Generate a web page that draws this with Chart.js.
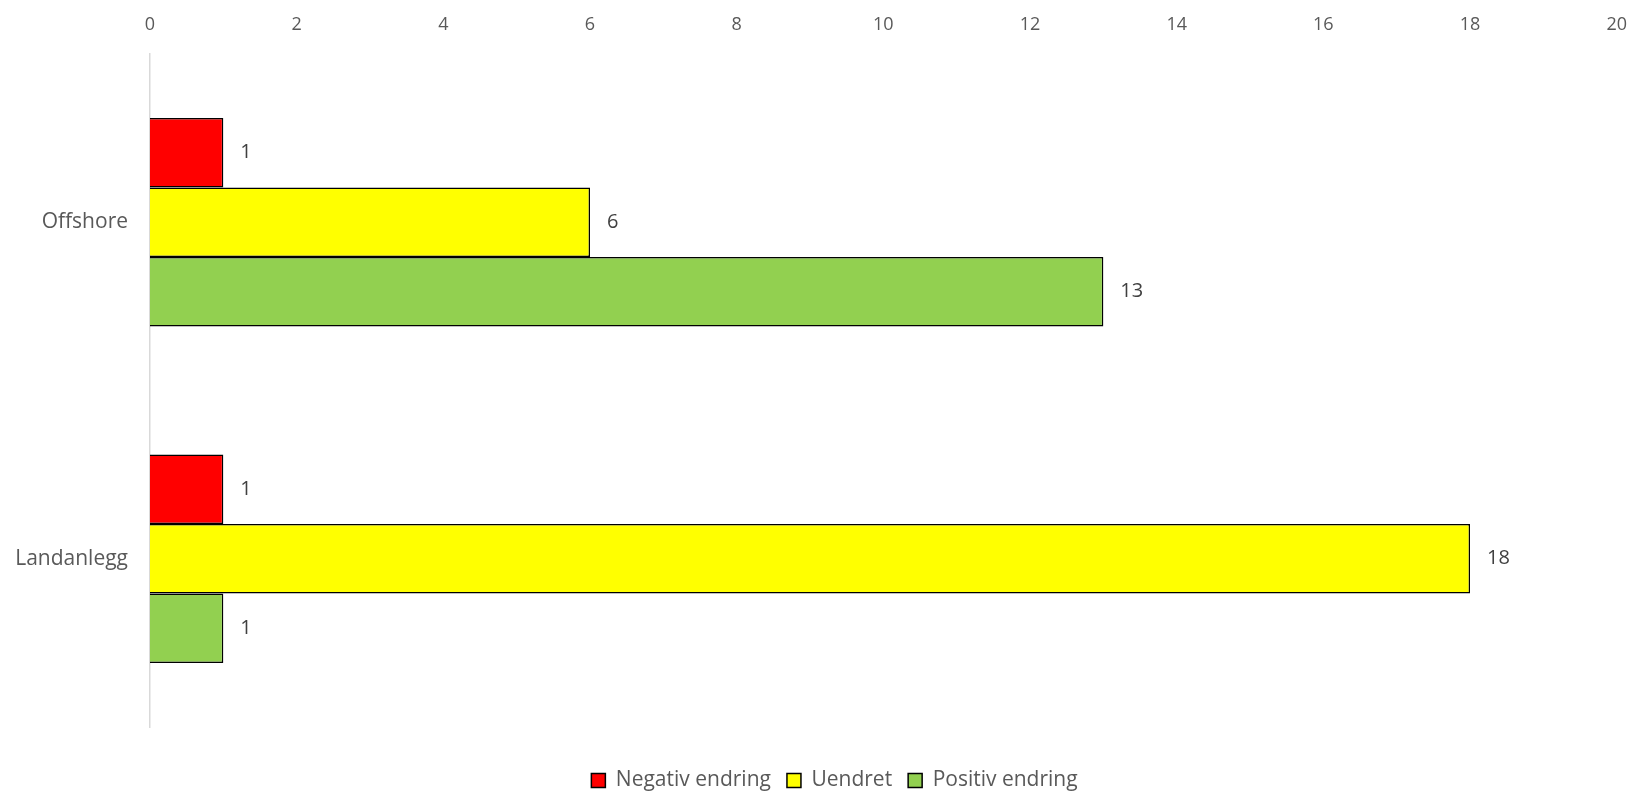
<!DOCTYPE html>
<html lang="nb">
<head>
    <meta charset="UTF-8">
    <title>Endring</title>
    <script src="https://cdn.jsdelivr.net/npm/chart.js"></script>
    <style>
        html, body { margin: 0; padding: 0; background: #fff; }
        .chart-container { width: 1637px; height: 792px; }
    </style>
</head>
<body>
    <div class="chart-container">
        <canvas id="barChart"></canvas>
    </div>
    <script>
        const categories = ['Offshore', 'Landanlegg'];
        const negativ = [1, 1];
        const uendret = [6, 18];
        const positiv = [13, 1];
        const xTicks = [0, 2, 4, 6, 8, 10, 12, 14, 16, 18, 20];

        const fontFamily = "'Open Sans', 'Liberation Sans', sans-serif";

        // verdier ved enden av hver stolpe
        const valueLabels = {
            id: 'valueLabels',
            afterDatasetsDraw(chart) {
                const c = chart.ctx;
                c.save();
                c.font = '20px ' + fontFamily;
                c.fillStyle = '#404040';
                c.textAlign = 'left';
                c.textBaseline = 'middle';
                chart.data.datasets.forEach((ds, i) => {
                    chart.getDatasetMeta(i).data.forEach((bar, j) => {
                        c.fillText(ds.data[j], bar.x + 17, bar.y);
                    });
                });
                c.restore();
            }
        };

        // flytt forklaringen litt mot høyre, som i originalen
        const legendShift = {
            id: 'legendShift',
            afterLayout(chart) {
                const lg = chart.legend;
                if (!lg) return;
                lg.left += 20;
                lg.right += 20;
                if (lg.legendHitBoxes) lg.legendHitBoxes.forEach(b => { b.left += 20; });
            }
        };

        const ctx = document.getElementById('barChart').getContext('2d');
        new Chart(ctx, {
            type: 'bar',
            data: {
                labels: categories,
                datasets: [
                    {
                        label: 'Negativ endring',
                        data: negativ,
                        backgroundColor: '#ff0000',
                        borderColor: '#000000',
                        borderWidth: 1.5
                    },
                    {
                        label: 'Uendret',
                        data: uendret,
                        backgroundColor: '#ffff00',
                        borderColor: '#000000',
                        borderWidth: 1.5
                    },
                    {
                        label: 'Positiv endring',
                        data: positiv,
                        backgroundColor: '#92d050',
                        borderColor: '#000000',
                        borderWidth: 1.5
                    }
                ]
            },
            options: {
                indexAxis: 'y',
                responsive: true,
                maintainAspectRatio: false,
                animation: false,
                layout: {
                    padding: { left: 0, right: 8, top: 8, bottom: -9 }
                },
                datasets: {
                    bar: {
                        barPercentage: 1,
                        categoryPercentage: 0.62
                    }
                },
                scales: {
                    x: {
                        position: 'top',
                        min: 0,
                        max: 20,
                        afterBuildTicks(scale) {
                            scale.ticks = xTicks.map(v => ({ value: v }));
                        },
                        afterFit(scale) { scale.height = 46; },
                        grid: { display: false },
                        border: { display: false },
                        ticks: {
                            color: '#595959',
                            font: { family: fontFamily, size: 18 },
                            padding: 10
                        }
                    },
                    y: {
                        afterFit(scale) { scale.width = 150; },
                        grid: { display: false },
                        border: { display: true, color: '#d9d9d9', width: 1.5 },
                        ticks: {
                            color: '#595959',
                            font: { family: fontFamily, size: 21 },
                            padding: 14
                        }
                    }
                },
                plugins: {
                    legend: {
                        position: 'bottom',
                        title: {
                            display: true,
                            text: ' ',
                            font: { size: 10 },
                            padding: { top: 6, bottom: 9 }
                        },
                        labels: {
                            color: '#595959',
                            font: { family: fontFamily, size: 21 },
                            boxWidth: 14,
                            boxHeight: 14,
                            padding: 16
                        }
                    },
                    tooltip: { enabled: false }
                }
            },
            plugins: [valueLabels, legendShift]
        });
    </script>
</body>
</html>
